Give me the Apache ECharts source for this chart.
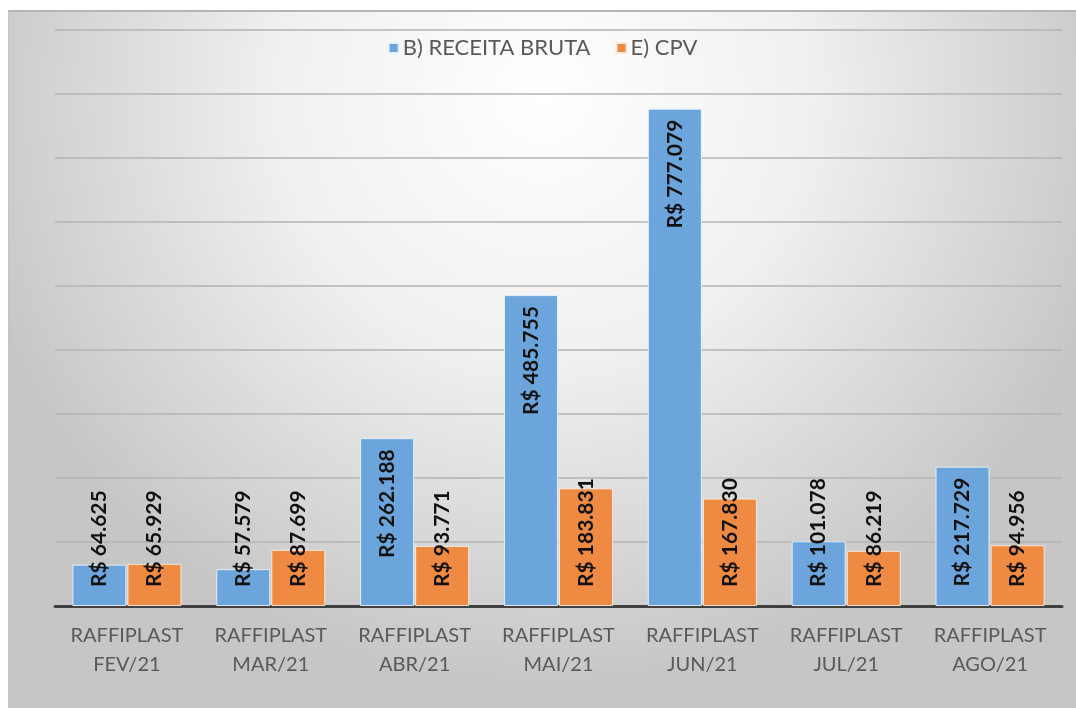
<!DOCTYPE html>
<html>
<head>
<meta charset="utf-8">
<script src="https://cdn.jsdelivr.net/npm/echarts@6/dist/echarts.min.js"></script>
<style>
  html, body { margin: 0; padding: 0; background: #fff; }
  #chart {
    position: absolute; left: 8px; top: 10px;
    width: 1067px; height: 696px;
    border-top: 2px solid #b4b4b4;
    border-left: 1px solid #c4c4c4;
  }
</style>
</head>
<body>
<div id="chart"></div>
<script>
// categorias e valores
const categories = [
  'RAFFIPLAST\nFEV/21', 'RAFFIPLAST\nMAR/21', 'RAFFIPLAST\nABR/21', 'RAFFIPLAST\nMAI/21',
  'RAFFIPLAST\nJUN/21', 'RAFFIPLAST\nJUL/21', 'RAFFIPLAST\nAGO/21'
]
const receitaBruta = [64625, 57579, 262188, 485755, 777079, 101078, 217729]
const cpv = [65929, 87699, 93771, 183831, 167830, 86219, 94956]
const seriesNames = ['B) RECEITA BRUTA', 'E) CPV']

const fmt = (v) => 'R$ ' + v.toLocaleString('pt-BR')

// rótulo dentro do topo quando cabe, senão encostado na base
const buildData = (values) => values.map((v) => {
  const fits = v >= 200000
  return {
    value: v,
    label: fits
      ? {position: 'insideTop', align: 'right', distance: 11}
      : {position: 'insideBottom', align: 'left', distance: 19}
  }
})

const chart = echarts.init(document.getElementById('chart'))

const labelStyle = {
  show: true,
  rotate: 90,
  verticalAlign: 'middle',
  fontFamily: 'Lato',
  fontWeight: 'bold',
  fontSize: 21,
  color: '#111',
  formatter: (p) => fmt(p.value)
}

const option = {
  animation: false,
  backgroundColor: new echarts.graphic.RadialGradient(0.5, 0.12, 0.85, [
    {offset: 0, color: '#ffffff'},
    {offset: 0.45, color: '#f0f0f0'},
    {offset: 1, color: '#c6c6c6'}
  ]),
  textStyle: {fontFamily: 'Lato'},
  legend: {
    data: seriesNames,
    top: 20,
    left: 'center',
    itemWidth: 10,
    itemHeight: 10,
    itemGap: 25,
    icon: 'rect',
    textStyle: {fontSize: 22, color: '#595959', fontFamily: 'Lato', padding: [0, 0, 0, -1]}
  },
  grid: {left: 46, right: 14, top: 18, bottom: 102},
  xAxis: {
    type: 'category',
    data: categories,
    axisTick: {show: false},
    axisLine: {lineStyle: {color: '#404040', width: 3}},
    axisLabel: {
      interval: 0,
      color: '#595959',
      fontSize: 20,
      lineHeight: 29,
      margin: 15,
      fontFamily: 'Lato'
    }
  },
  yAxis: {
    type: 'value',
    min: 0,
    max: 900000,
    interval: 100000,
    axisLabel: {show: false},
    axisLine: {show: false},
    axisTick: {show: false},
    splitLine: {lineStyle: {color: '#b3b3b3', width: 1.5}}
  },
  series: [
    {
      name: seriesNames[0],
      type: 'bar',
      barWidth: 54,
      barGap: '2%',
      itemStyle: {color: '#6ca5db', borderColor: 'rgba(235,244,252,0.9)', borderWidth: 1},
      label: labelStyle,
      data: buildData(receitaBruta)
    },
    {
      name: seriesNames[1],
      type: 'bar',
      barWidth: 54,
      barGap: '2%',
      itemStyle: {color: '#ef8a42', borderColor: 'rgba(252,238,226,0.9)', borderWidth: 1},
      label: labelStyle,
      data: buildData(cpv)
    }
  ]
}

chart.setOption(option)
</script>
</body>
</html>
